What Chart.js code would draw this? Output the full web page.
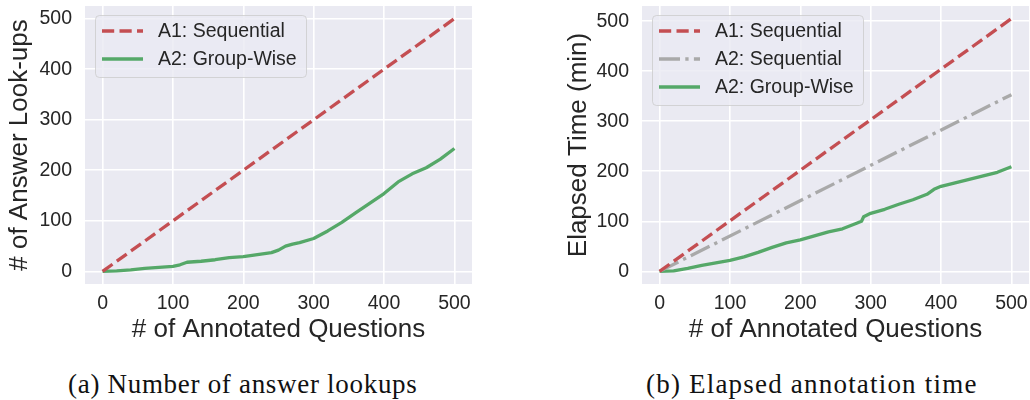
<!DOCTYPE html>
<html><head><meta charset="utf-8">
<script src="https://cdn.jsdelivr.net/npm/chart.js@4.4.1/dist/chart.umd.min.js"></script>
<style>
html,body{margin:0;padding:0;background:#fff;width:1030px;height:400px;overflow:hidden;}
.wrap{position:absolute;top:0;}
.cap{position:absolute;font-family:"Liberation Serif","Times New Roman",serif;font-size:27px;color:#111;white-space:nowrap;line-height:31px;}
</style></head><body>
<div class="wrap" style="left:0;width:480px;height:350px"><canvas id="c1" width="480" height="350"></canvas></div>
<div class="wrap" style="left:530px;width:500px;height:350px"><canvas id="c2" width="500" height="350"></canvas></div>
<div class="cap" style="left:68px;top:369px;letter-spacing:0.7px">(a) Number of answer lookups</div>
<div class="cap" style="left:646px;top:369px;letter-spacing:1.2px">(b) Elapsed annotation time</div>
<script>
// ---- data ----
const xTicks = [0, 100, 200, 300, 400, 500];
const yTicks = [0, 100, 200, 300, 400, 500];

const seqQuestions = [0, 500];
const lookupA1Sequential = [0, 500];
const lookupQuestions = [0, 20, 40, 60, 80, 100, 110, 120, 140, 160, 180, 200, 220, 240, 250, 260, 270, 280, 300, 320, 340, 360, 380, 400, 420, 440, 460, 480, 500];
const lookupA2GroupWise = [0, 1, 3, 6, 8, 10, 13, 18, 20, 23, 27, 29, 33, 37, 42, 50, 54, 57, 65, 80, 97, 116, 135, 154, 177, 193, 205, 222, 243];

const timeA1Sequential = [0, 505];
const timeA2Sequential = [0, 353];
const timeQuestions = [0, 20, 40, 60, 80, 100, 120, 140, 160, 180, 200, 220, 240, 260, 280, 287, 290, 300, 320, 340, 360, 380, 390, 400, 420, 440, 460, 480, 500];
const timeA2GroupWise = [0, 1, 6, 12, 17, 22, 29, 38, 48, 57, 63, 71, 79, 85, 96, 100, 109, 116, 124, 134, 143, 154, 164, 170, 177, 184, 191, 198, 209];

const xTitle = '# of Annotated Questions';
const yTitleA = '# of Answer Look-ups';
const yTitleB = 'Elapsed Time (min)';

// ---- styling ----
const RED = '#C44E52', GREEN = '#55A868', GREY = '#A9A9A9', TXT = '#262626';
const SANS = "'Liberation Sans', Arial, sans-serif";
const LW = 3.3;

const pts = (xs, ys) => xs.map((x, i) => ({x: x, y: ys[i]}));

const bgPlugin = {
  id: 'bg',
  beforeDraw(chart) {
    const a = chart.chartArea, ctx = chart.ctx;
    ctx.save();
    ctx.fillStyle = '#EAEAF2';
    ctx.fillRect(a.left, a.top, a.right - a.left, a.bottom - a.top);
    ctx.restore();
  }
};

const legendPlugin = {
  id: 'mplLegend',
  afterDatasetsDraw(chart, args, o) {
    const ctx = chart.ctx, a = chart.chartArea;
    const ds = chart.data.datasets;
    const x0 = a.left + o.dx, y0 = a.top + o.dy;
    const w = o.width, h = o.rowH * ds.length + o.padV;
    ctx.save();
    ctx.beginPath();
    ctx.roundRect(x0 + 0.5, y0 + 0.5, w, h, 4);
    ctx.fillStyle = 'rgba(234,234,242,0.8)';
    ctx.fill();
    ctx.lineWidth = 1;
    ctx.strokeStyle = 'rgba(204,204,204,0.8)';
    ctx.stroke();
    ctx.font = o.fontSize + 'px ' + SANS;
    ctx.textBaseline = 'middle';
    ctx.textAlign = 'left';
    ds.forEach((d, i) => {
      const cy = y0 + o.first + i * o.rowH;
      ctx.beginPath();
      ctx.strokeStyle = d.borderColor;
      ctx.lineWidth = d.borderWidth;
      ctx.lineCap = 'butt';
      ctx.setLineDash(d.borderDash || []);
      ctx.moveTo(x0 + 7, cy);
      ctx.lineTo(x0 + 48, cy);
      ctx.stroke();
      ctx.setLineDash([]);
      ctx.fillStyle = TXT;
      ctx.fillText(d.label, x0 + 63, cy + 1);
    });
    ctx.restore();
  }
};

function makeChart(id, c) {
  const tickFont = {family: SANS, size: 19.5};
  const titleFont = {family: SANS, size: 26};
  return new Chart(document.getElementById(id), {
    type: 'line',
    data: {datasets: c.datasets},
    options: {
      responsive: false, animation: false, devicePixelRatio: 1,
      layout: {padding: {top: 6, right: c.padRight, left: 0, bottom: 0}},
      elements: {point: {radius: 0}, line: {tension: 0, borderJoinStyle: 'round'}},
      plugins: {legend: {display: false}, tooltip: {enabled: false}, mplLegend: c.legend},
      scales: {
        x: {
          type: 'linear', min: -25, max: 525,
          afterBuildTicks: s => { s.ticks = xTicks.map(v => ({value: v})); },
          afterFit: s => { s.height = 66; s.paddingLeft = 0; s.paddingRight = 0; },
          grid: {color: '#ffffff', lineWidth: 1.6, drawTicks: false},
          border: {display: false},
          ticks: {padding: 8, color: TXT, font: tickFont, autoSkip: false, maxRotation: 0},
          title: {display: true, text: xTitle, color: TXT, font: titleFont, padding: {top: 0, bottom: 5}}
        },
        y: {
          type: 'linear', min: c.yMin, max: c.yMax,
          afterBuildTicks: s => { s.ticks = yTicks.map(v => ({value: v})); },
          afterFit: s => { s.width = c.yWidth; s.paddingTop = 0; s.paddingBottom = 0; },
          grid: {color: '#ffffff', lineWidth: 1.6, drawTicks: false},
          border: {display: false},
          ticks: {padding: 13, color: TXT, font: tickFont, autoSkip: false},
          title: {display: true, text: c.yTitle, color: TXT, font: titleFont, padding: {top: c.yTitlePad, bottom: 0}}
        }
      }
    },
    plugins: [bgPlugin, legendPlugin]
  });
}

makeChart('c1', {
  yWidth: 85, padRight: 8, yMin: -25, yMax: 525, yTitle: yTitleA, yTitlePad: 4.4,
  legend: {dx: 10, dy: 9, width: 211, rowH: 28, padV: 6, first: 16, fontSize: 19.5},
  datasets: [
    {label: 'A1: Sequential', data: pts(seqQuestions, lookupA1Sequential), borderColor: RED, borderWidth: LW, borderDash: [12.2, 5.3]},
    {label: 'A2: Group-Wise', data: pts(lookupQuestions, lookupA2GroupWise), borderColor: GREEN, borderWidth: LW}
  ]
});

makeChart('c2', {
  yWidth: 112, padRight: 1, yMin: -25.25, yMax: 530.25, yTitle: yTitleB, yTitlePad: 33.4,
  legend: {dx: 10, dy: 9, width: 211, rowH: 28, padV: 6, first: 16, fontSize: 19.5},
  datasets: [
    {label: 'A1: Sequential', data: pts(seqQuestions, timeA1Sequential), borderColor: RED, borderWidth: LW, borderDash: [12.2, 5.3]},
    {label: 'A2: Sequential', data: pts(seqQuestions, timeA2Sequential), borderColor: GREY, borderWidth: LW, borderDash: [21, 5.3, 3.3, 5.3]},
    {label: 'A2: Group-Wise', data: pts(timeQuestions, timeA2GroupWise), borderColor: GREEN, borderWidth: LW}
  ]
});
</script>
</body></html>
